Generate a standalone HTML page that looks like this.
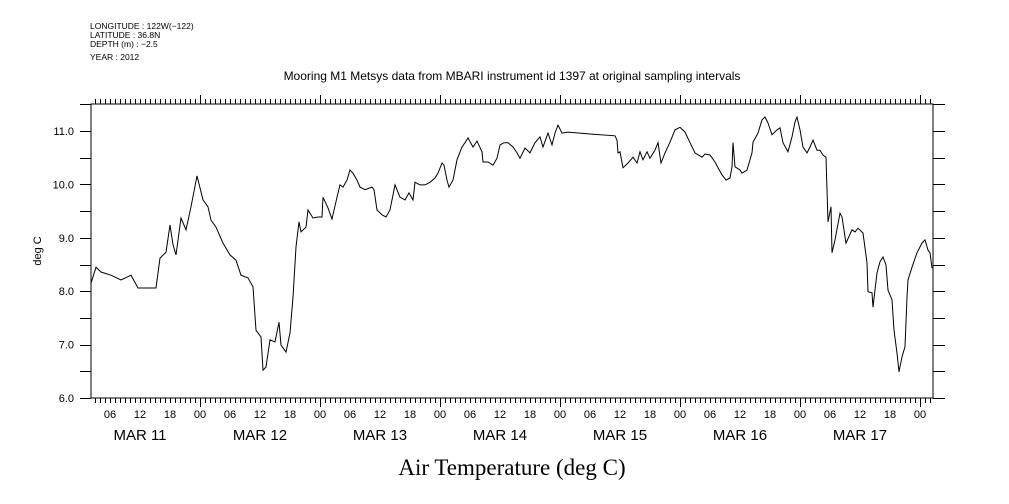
<!DOCTYPE html>
<html><head><meta charset="utf-8"><style>
body{margin:0;background:#fff}
svg{display:block;font-family:"Liberation Sans",sans-serif}
</style></head><body>
<svg id="chart" width="1009" height="504" viewBox="0 0 1009 504" xmlns="http://www.w3.org/2000/svg">
<g font-size="8.5" fill="#000">
<text x="90" y="29">LONGITUDE : 122W(−122)</text>
<text x="90" y="38">LATITUDE : 36.8N</text>
<text x="90" y="47">DEPTH (m) : −2.5</text>
<text x="90" y="60">YEAR : 2012</text>
</g>
<text x="512" y="80" font-size="12" text-anchor="middle">Mooring M1 Metsys data from MBARI instrument id 1397 at original sampling intervals</text>
<text transform="translate(41,251) rotate(-90)" font-size="11" text-anchor="middle">deg C</text>
<text x="512" y="475" font-size="23" text-anchor="middle" font-family="Liberation Serif,serif">Air Temperature (deg C)</text>
<g id="axes"></g>
<path id="line" fill="none" stroke="#000" stroke-width="1"/>
</svg>
<script>
const hours=[2.2,3.2,4.2,6.2,8.2,10.2,11.6,13.6,15.2,16.0,17.2,18.0,18.6,19.2,20.2,21.2,22.2,23.4,24.6,25.6,26.2,27.2,28.6,30.0,31.2,32.2,33.6,34.6,35.2,36.2,36.6,37.2,38.0,39.0,39.8,40.2,41.2,42.0,42.6,43.2,43.8,44.2,45.2,45.6,
46.6,47.6,48.4,48.6,49.6,50.4,51.4,52.0,52.6,53.4,54.0,54.6,55.4,56.0,57.0,58.4,58.8,59.4,60.4,61.2,62.0,63.0,64.0,65.0,65.8,66.6,67.0,68.0,69.0,70.0,71.0,71.6,72.4,72.8,73.4,73.8,74.6,75.4,76.4,77.0,77.6,78.6,79.4,80.4,80.6,81.6,82.6,83.4,84.0,84.8,85.6,86.6,87.4,88.0,
89.0,90.0,91.0,92.0,92.6,93.6,94.4,95.0,95.6,96.4,97.6,102.6,107.0,107.4,107.6,108.0,108.6,109.6,110.6,111.4,112.0,112.6,113.4,114.0,115.0,115.6,116.2,117.0,118.0,119.0,120.0,121.0,122.0,123.0,124.4,125.0,126.0,127.0,127.6,128.4,129.2,130.0,
130.4,130.6,131.0,132.0,132.4,133.4,134.4,134.6,135.6,136.4,137.0,137.6,138.4,139.4,140.0,140.6,141.6,142.4,143.0,143.4,144.0,144.6,145.4,146.0,146.6,147.4,148.0,148.6,149.2,149.4,149.6,150.2,150.4,151.0,152.0,152.4,153.2,154.4,155.0,155.6,156.6,157.4,157.6,158.4,158.6,159.4,160.0,160.6,161.2,161.6,162.4,162.8,163.4,163.8,164.4,165.0,165.4,165.6,166.4,167.4,168.4,169.0,169.6,170.0,170.4];
const temps=[8.15,8.45,8.36,8.30,8.21,8.30,8.06,8.06,8.06,8.62,8.73,9.24,8.87,8.68,9.37,9.15,9.58,10.16,9.71,9.58,9.33,9.20,8.90,8.68,8.58,8.30,8.25,8.08,7.27,7.14,6.52,6.58,7.09,7.05,7.42,6.99,6.86,7.22,7.89,8.83,9.30,9.11,9.20,9.52,
9.37,9.39,9.39,9.76,9.56,9.35,9.76,9.99,9.95,10.08,10.27,10.21,10.08,9.95,9.90,9.95,9.90,9.52,9.43,9.39,9.52,9.99,9.76,9.71,9.84,9.71,10.04,9.99,9.99,10.04,10.12,10.21,10.40,10.36,10.08,9.95,10.08,10.46,10.70,10.78,10.87,10.70,10.81,10.61,10.42,10.42,10.36,10.49,10.74,10.78,10.78,10.70,10.59,10.49,
10.68,10.59,10.78,10.89,10.70,10.96,10.74,10.96,11.11,10.96,10.98,10.94,10.91,10.83,10.59,10.61,10.31,10.40,10.51,10.40,10.61,10.46,10.61,10.49,10.64,10.78,10.40,10.59,10.79,11.02,11.07,10.98,10.78,10.59,10.51,10.57,10.55,10.42,10.31,10.18,10.08,10.12,
10.33,10.78,10.33,10.27,10.21,10.27,10.59,10.79,10.96,11.21,11.26,11.15,10.93,11.02,11.06,10.78,10.61,10.89,11.17,11.26,11.02,10.70,10.59,10.70,10.83,10.64,10.64,10.55,10.51,9.90,9.30,9.58,8.72,8.96,9.46,9.39,8.90,9.15,9.11,9.18,9.09,8.53,7.99,7.97,7.70,8.34,8.55,8.64,8.49,8.02,7.84,7.27,6.84,6.49,6.77,6.96,7.89,8.21,8.45,8.72,8.90,8.96,8.77,8.72,8.43];
const yTicks=[6.0,7.0,8.0,9.0,10.0,11.0];
const hourLabels=["06","12","18","00"];
const dayLabels=["MAR 11","MAR 12","MAR 13","MAR 14","MAR 15","MAR 16","MAR 17"];

const X0=91,X1=933,Y0=104,Y1=398;
const xs=h=>80+5*h;
const ys=v=>398-(v-6)*53.4;
const NS="http://www.w3.org/2000/svg";
const ax=document.getElementById('axes');
function mk(tag,attrs,parent){const e=document.createElementNS(NS,tag);for(const k in attrs)e.setAttribute(k,attrs[k]);(parent||ax).appendChild(e);return e;}
const frame=mk('rect',{x:X0,y:Y0,width:X1-X0,height:Y1-Y0,fill:'none',stroke:'#000','stroke-width':1});


for(let v=6;v<=11.51;v+=0.5){
  const y=Math.round(ys(v))+0.5;
  const t1=mk('line',{x1:X0-11,x2:X0,y1:y,y2:y,stroke:'#000'});
  
  
  const t2=mk('line',{x1:X1,x2:X1+12,y1:y,y2:y,stroke:'#000'});
  
  
}
yTicks.forEach(v=>{
  const t=mk('text',{x:X0-17,y:ys(v)+4,'font-size':11,'text-anchor':'end'});
  t.textContent=v.toFixed(1);
  
  
});
for(let h=3;h<=170;h++){
  const x=xs(h)+0.5;const major=h%24===0;
  const b=mk('line',{x1:x,x2:x,y1:Y1,y2:Y1+(major?9:5),stroke:'#000'});
  
  
  const t=mk('line',{x1:x,x2:x,y1:Y0,y2:Y0-(major?9:5),stroke:'#000'});
  
  
}
for(let d=0;d<7;d++){
  hourLabels.forEach((lab,i)=>{
    const h=d*24+6*(i+1);
    if(xs(h)>X1+2)return;
    const t=mk('text',{x:xs(h),y:418,'font-size':11,'text-anchor':'middle'});
    t.textContent=lab;
    
    
  });
  const t=mk('text',{x:xs(d*24+12),y:440,'font-size':15,'text-anchor':'middle'});
  t.textContent=dayLabels[d];
  
  
}
document.getElementById('line').setAttribute('d',hours.map((h,i)=>(i?'L':'M')+xs(h).toFixed(1)+','+ys(temps[i]).toFixed(1)).join(''));
</script>
</body></html>
